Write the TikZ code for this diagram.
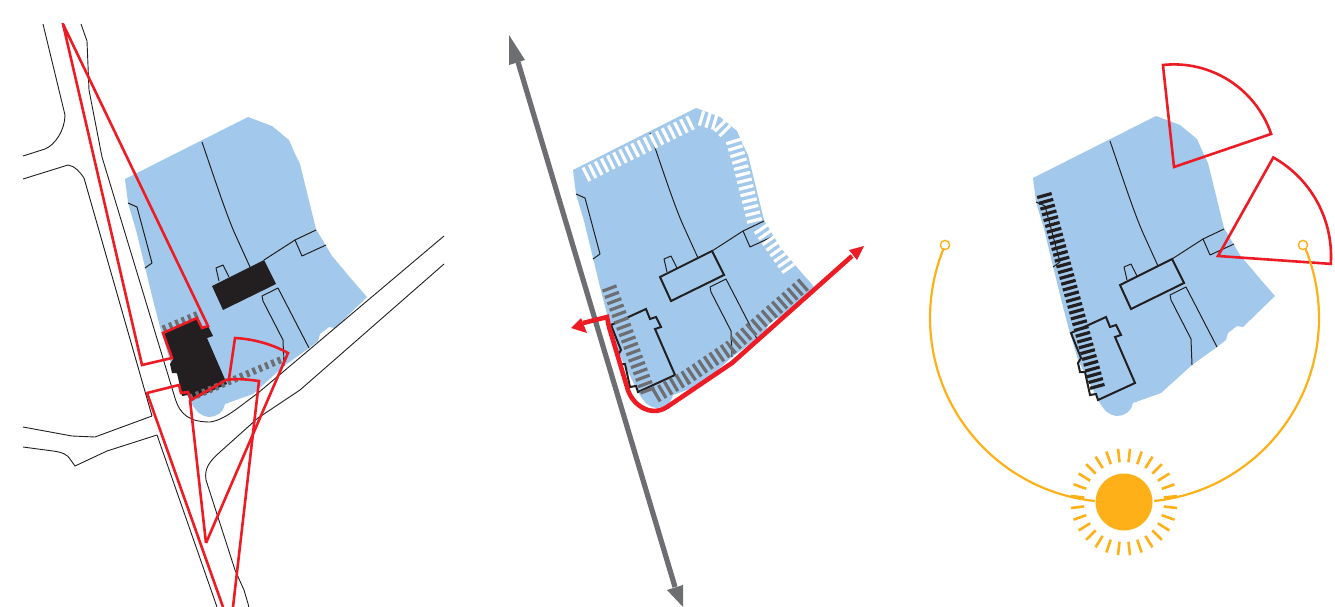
\documentclass[tikz,border=0pt]{standalone}
\usetikzlibrary{arrows.meta}
\definecolor{siteblue}{HTML}{A2C9EC}
\definecolor{redl}{HTML}{ED1C24}
\definecolor{orangel}{HTML}{FDB017}
\definecolor{grayl}{HTML}{6D6E71}
\definecolor{blackl}{HTML}{231F20}
\tikzset{
  thinl/.style={draw=blackl,line width=1pt,line join=round},
  roadl/.style={draw=blackl,line width=0.9pt,line join=round},
  thickl/.style={draw=blackl,line width=2pt,line join=miter},
  redline/.style={draw=redl,line width=2.6pt,line join=miter},
  whatch/.style={draw=white,line width=15pt,dash pattern=on 3.2pt off 3.6pt},
  ghatch/.style={draw=grayl,line width=15pt,dash pattern=on 3.2pt off 3.6pt},
  khatch/.style={draw=blackl,line width=15pt,dash pattern=on 3.2pt off 2.8pt},
  sunl/.style={draw=orangel,line width=2.2pt}
}
% everything below is in panel-3 coordinates
\newcommand{\sitefill}{%
  \fill[siteblue] (1156,116) -- (1180,125) -- (1197,139) -- (1204,155) -- (1208,163)
    -- (1224,228) -- (1240,255) -- (1261,280) -- (1275,296) -- (1243,327) -- (1237,326)
    -- (1228,333) -- (1226,340) -- (1217,347) -- (1192,365) -- (1161,393) -- (1133,403)
    .. controls (1131,412) and (1124,416) .. (1117,416)
    .. controls (1109,415) and (1105,412) .. (1098,400)
    -- (1078,360) -- (1068,326) -- (1061,299) -- (1044,229) -- (1036,202) -- (1033,178) -- cycle;}
\newcommand{\sitelines}{%
  \draw[thinl] (1110,141) .. controls (1125,185) and (1135,215) .. (1143,233) -- (1158,266);
  \draw[thinl] (1172,259) -- (1203,239) -- (1224,229);
  \draw[thinl] (1203,239) -- (1210,255) -- (1234,244);
  \draw[thinl] (1036,202) -- (1045,206) -- (1060,262) -- (1053,267);
  \draw[thinl] (1127,280) -- (1124,267) -- (1131,264) -- (1137,276);
  \draw[thinl] (1217,347) -- (1186,287) -- (1170,295) -- (1171,300) -- (1191,339) -- (1192,365);}
\newcommand{\bldgA}{(1172,259) -- (1184,283) -- (1131,309) -- (1120,285) -- cycle}
\newcommand{\bldgB}{(1106,317) -- (1110,327) -- (1116,325) -- (1121,335) -- (1115,337) -- (1135,383)
    -- (1098,400) -- (1096,394) -- (1090,395) -- (1085,372) -- (1080,372) -- (1078,363) -- (1081,358) -- (1071,333) -- cycle}
\begin{document}
\begin{tikzpicture}[x=1pt,y=1pt,yscale=-1]
\useasboundingbox (0,0) rectangle (1335,607);
% ---------- panel 1
\begin{scope}[xshift=-908pt,yshift=1pt]
  \sitefill
  \sitelines
  \fill[blackl] \bldgA;
  \fill[blackl] \bldgB;
\end{scope}
\draw[roadl] (43,24) -- (65,115) .. controls (65,130) and (55,145) .. (45,149) -- (23,156);
\draw[roadl] (23,179) -- (68,165) .. controls (75,166) and (80,172) .. (84,178) -- (152,416) -- (95,437) -- (72,436) -- (23,427);
\draw[roadl] (23,447) -- (53,451) .. controls (62,452) and (68,455) .. (70,459) -- (75,466) -- (107,451) -- (157,435) -- (217,607);
\draw[roadl] (81,24) -- (87,41) -- (89,90) -- (102,157) -- (175,398) .. controls (180,415) and (190,422) .. (210,422)
   .. controls (225,420) and (240,406) .. (258,393) -- (444,236);
\draw[roadl] (444,264) -- (300,390) -- (258,418) -- (220,452) .. controls (210,461) and (204,468) .. (206,480) -- (235,570) -- (244,590) -- (249,607);
\draw[ghatch,line width=7pt] (163,329) -- (201,313);
\draw[ghatch,line width=7pt] (190,398) -- (285,358);
\begin{scope}
  \clip (0,24) rectangle (460,607);
  \draw[redline] (63,24) -- (142,365) -- (172,358) -- (163,333) -- (197,318) -- (202,328) -- (208,326) -- cycle;
  \draw[redline] (223,607) -- (147,393) -- (179,385) -- (181,393) -- (188,392) -- (191,400) -- (226,380)
    .. controls (240,378) and (250,380) .. (259,381) -- (233,607);
  \draw[redline] (206,543) -- (190,400);
  \draw[redline] (206,543) -- (288,353) .. controls (272,344) and (253,339) .. (235,338) -- (229,379);
\end{scope}
% ---------- panel 2
\begin{scope}[xshift=-460pt,yshift=-8pt]
  \sitefill
  \sitelines
  \draw[thickl] \bldgA;
  \draw[thickl] \bldgB;
\end{scope}
\draw[whatch] (585,175) -- (692,122);
\draw[whatch] (700,118) -- (717,123) -- (727,133);
\draw[whatch] (733,140) -- (740,163) -- (755,223);
\draw[whatch] (760,228) -- (790,271);
\draw[ghatch] (804,284) -- (730,348) -- (687,377) -- (653,397);
\draw[ghatch] (609,287) -- (648,392);
\draw[grayl,line width=5.2pt] (518,62) -- (675,587);
\fill[grayl] (509,35) -- (525,60) -- (509,65) -- cycle;
\fill[grayl] (683,607) -- (667,590) -- (683,585) -- cycle;
\draw[redl,line width=4.6pt,line join=miter] (583,323) -- (607,317) -- (609,327) -- (627,387)
   .. controls (631,404) and (650,418) .. (667,407) -- (732,363) -- (852,256);
\fill[redl] (571,328) -- (581,318) -- (587,333) -- cycle;
\fill[redl] (864,246) -- (849,250) -- (857,260) -- cycle;
% ---------- panel 3
\sitefill
\sitelines
\draw[thickl] \bldgA;
\draw[thickl] \bldgB;
\draw[khatch] (1044,194) -- (1098,389);
\draw[redline] (1174,167) -- ++(-96.2:102.6) arc[start angle=-96.2,end angle=-18.8,radius=102.6] -- cycle;
\draw[redline] (1218,256) -- ++(-60.7:113) arc[start angle=-60.7,end angle=4,radius=113] -- cycle;
\draw[sunl] (1114,318) ++(202:184) arc[start angle=202,end angle=96,radius=184];
\draw[sunl] (1135,318) ++(-22:184) arc[start angle=-22,end angle=84,radius=184];
\draw[orangel,line width=1.4pt,fill=white] (945,245) circle[radius=4.6];
\draw[orangel,line width=1.4pt,fill=white] (1303,245) circle[radius=4.6];
\fill[orangel] (1124,502) circle[radius=28.5];
\foreach \a in {0,...,27}{
  \draw[orangel,line width=2.6pt] (1124,502) ++({-96.4+\a*12.857}:40) -- ++({-96.4+\a*12.857}:13.5);
}
\end{tikzpicture}
\end{document}
